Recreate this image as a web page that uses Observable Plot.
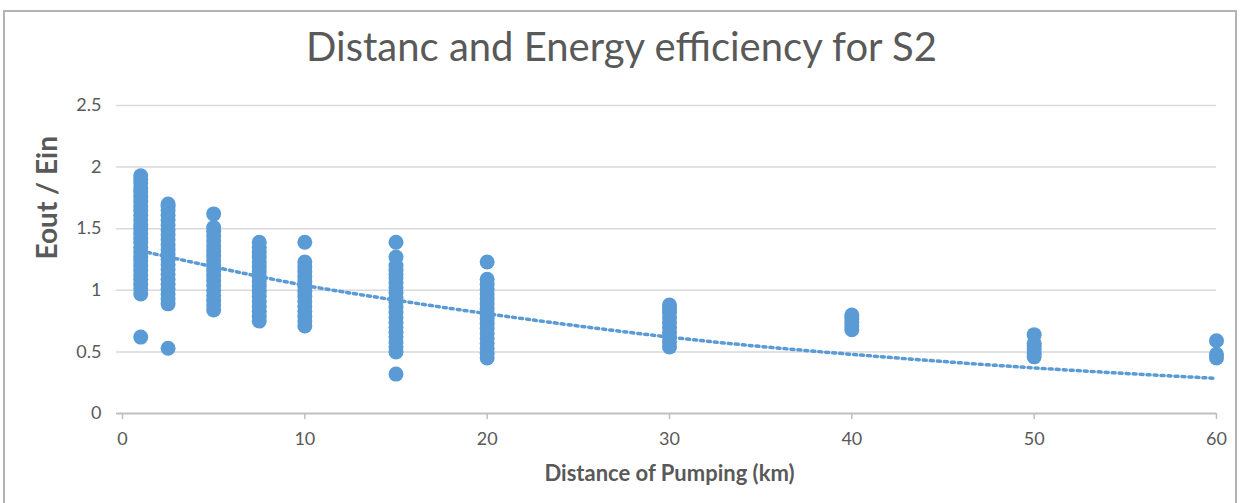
<!DOCTYPE html>
<html>
<head>
<meta charset="utf-8">
<script src="https://cdn.jsdelivr.net/npm/d3@7"></script>
<script src="https://cdn.jsdelivr.net/npm/@observablehq/plot@0.6"></script>
<style>
  html, body { margin: 0; padding: 0; background: #fff; overflow: hidden; }
  #frame { position: absolute; left: 3px; top: 10px; width: 1234px; height: 520px; border: 2px solid #b4b4b4; box-sizing: border-box; }
  #title { position: absolute; left: 0; top: 22px; width: 1243px; text-align: center; font-family: Lato, "Open Sans", sans-serif; font-size: 40px; line-height: 48px; color: #595959; }
  #chart { position: absolute; left: 0; top: 90px; }
</style>
</head>
<body>
<div id="frame"></div>
<div id="title">Distanc and Energy efficiency for S2</div>
<div id="chart"></div>
<script>
const titleText = "Distanc and Energy efficiency for S2";
const xLabel = "Distance of Pumping (km)";
const yLabel = "Eout / Ein";
const xTicks = [0, 10, 20, 30, 40, 50, 60];
const yTicks = [0, 0.5, 1, 1.5, 2, 2.5];

// Distances (km) and the Eout/Ein values observed at each
const distances = [1, 2.5, 5, 7.5, 10, 15, 20, 30, 40, 50, 60];
const d1   = [0.62, 0.97, 1.01, 1.05, 1.09, 1.12, 1.16, 1.2, 1.24, 1.27, 1.31, 1.35, 1.39, 1.42, 1.46, 1.5, 1.53, 1.57, 1.61, 1.65, 1.68, 1.72, 1.76, 1.8, 1.83, 1.87, 1.9, 1.93];
const d2_5 = [0.53, 0.89, 0.93, 0.97, 1.01, 1.05, 1.09, 1.13, 1.17, 1.21, 1.25, 1.29, 1.33, 1.37, 1.41, 1.45, 1.49, 1.53, 1.57, 1.61, 1.65, 1.68, 1.7];
const d5   = [0.84, 0.88, 0.92, 0.96, 1.0, 1.04, 1.08, 1.12, 1.16, 1.2, 1.24, 1.28, 1.32, 1.36, 1.4, 1.44, 1.48, 1.51, 1.62];
const d7_5 = [0.75, 0.79, 0.83, 0.87, 0.91, 0.95, 0.99, 1.03, 1.07, 1.11, 1.15, 1.19, 1.23, 1.27, 1.31, 1.35, 1.39];
const d10  = [0.71, 0.75, 0.79, 0.83, 0.87, 0.91, 0.95, 0.99, 1.03, 1.07, 1.11, 1.15, 1.19, 1.23, 1.39];
const d15  = [0.32, 0.5, 0.54, 0.58, 0.62, 0.66, 0.7, 0.74, 0.78, 0.82, 0.86, 0.9, 0.94, 0.98, 1.02, 1.06, 1.1, 1.13, 1.16, 1.2, 1.27, 1.39];
const d20  = [0.45, 0.49, 0.53, 0.57, 0.61, 0.65, 0.69, 0.73, 0.77, 0.81, 0.85, 0.89, 0.93, 0.97, 1.01, 1.05, 1.09, 1.23];
const d30  = [0.54, 0.58, 0.62, 0.66, 0.7, 0.74, 0.78, 0.82, 0.85, 0.88];
const d40  = [0.68, 0.71, 0.74, 0.77, 0.8];
const d50  = [0.46, 0.49, 0.52, 0.55, 0.57, 0.64];
const d60  = [0.45, 0.48, 0.59];
const series = [d1, d2_5, d5, d7_5, d10, d15, d20, d30, d40, d50, d60];

// Dotted trendline, values
const trendX = [1, 5, 10, 15, 20, 30, 40, 50, 60];
const trendY = [1.32, 1.19, 1.04, 0.92, 0.81, 0.62, 0.48, 0.37, 0.285];

const points = distances.flatMap((x, i) => series[i].map(y => ({x, y})));
const trend = trendX.map((x, i) => ({x, y: trendY[i]}));

const blue = "#5B9BD5";
const textColor = "#595959";

const chart = Plot.plot({
  width: 1243,
  height: 413,
  marginLeft: 122,
  marginRight: 27,
  marginTop: 15,
  marginBottom: 90,
  style: {fontFamily: "Lato, 'Open Sans', sans-serif", background: "transparent"},
  x: {domain: [0, 60], label: null},
  y: {domain: [0, 2.5], label: null},
  marks: [
    Plot.ruleY(yTicks.filter(d => d > 0), {stroke: "#d9d9d9", strokeWidth: 1.5, insetLeft: -6}),
    Plot.ruleY([0], {stroke: "#bfbfbf", strokeWidth: 2, insetLeft: -6}),
    Plot.axisX({ticks: xTicks, tickSize: 6, tickPadding: 13, fontSize: 18, stroke: "#bfbfbf", fill: textColor, strokeWidth: 1.5, label: null}),
    Plot.axisY({ticks: yTicks, tickSize: 0, tickPadding: 21, fontSize: 18, fill: textColor, label: null, tickFormat: d => String(d)}),
    Plot.dot(points, {x: "x", y: "y", r: 7.5, fill: blue}),
    Plot.line(trend, {x: "x", y: "y", stroke: blue, strokeWidth: 3.5, strokeDasharray: "3,4", curve: "natural"}),
    Plot.text([yLabel], {frameAnchor: "left", dx: -74, rotate: -90, fontSize: 28, fontWeight: "bold", fill: textColor}),
    Plot.text([xLabel], {frameAnchor: "bottom", dy: 67, fontSize: 22, fontWeight: "bold", fill: textColor})
  ]
});
document.getElementById("chart").appendChild(chart);
</script>
</body>
</html>
